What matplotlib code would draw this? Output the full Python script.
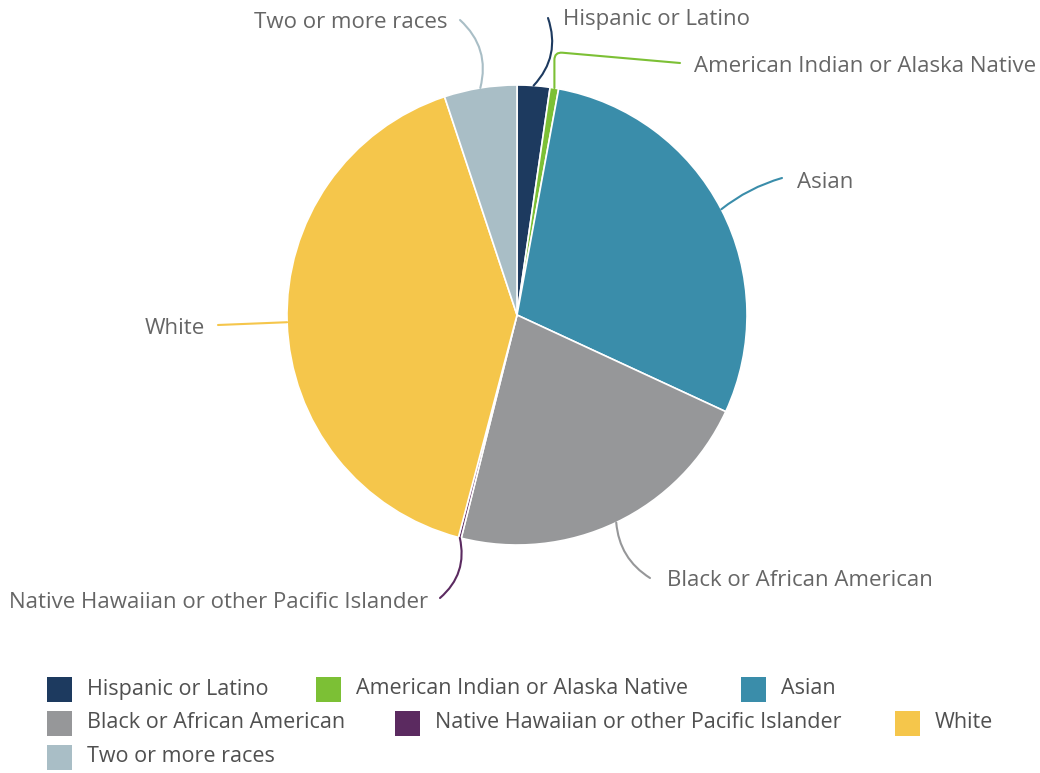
import matplotlib
matplotlib.use("Agg")
import numpy as np
from matplotlib import pyplot as plt
from matplotlib.patches import Rectangle

# data
categories = [
    "Hispanic or Latino",
    "American Indian or Alaska Native",
    "Asian",
    "Black or African American",
    "Native Hawaiian or other Pacific Islander",
    "White",
    "Two or more races",
]
shares = [2.3, 0.6, 29.0, 22.0, 0.2, 40.8, 5.1]
colors = ["#1d3a5f", "#7cc035", "#3a8daa", "#969799", "#5b2a60", "#f5c64b", "#a9bec6"]

W, H = 1040, 773
plt.rcParams["font.family"] = ["Open Sans", "DejaVu Sans"]

fig = plt.figure(figsize=(W / 100, H / 100), dpi=100)
ax = fig.add_axes([0, 0, 1, 1])

cx, cy, r = 517, H - 315, 230
wedges, _ = ax.pie(shares, colors=colors, startangle=90, counterclock=False,
                   center=(cx, cy), radius=r, frame=True,
                   wedgeprops=dict(edgecolor="white", linewidth=1.2))
ax.set_xlim(0, W)
ax.set_ylim(0, H)
ax.axis("off")

# label text position (image px), alignment, connector end, connection style
label_layout = [
    ((563, 19), "left", (548, 18), "arc3,rad=-0.3"),
    ((694, 67), "left", (680, 63), "angle,angleA=-5,angleB=90,rad=8"),
    ((797, 183), "left", (782, 178), "arc3,rad=0.1"),
    ((667, 580), "left", (650, 578), "arc3,rad=-0.25"),
    ((428, 603), "right", (440, 598), "arc3,rad=0.3"),
    ((205, 328), "right", (218, 325), "arc3,rad=0"),
    ((447, 22), "right", (460, 20), "arc3,rad=-0.3"),
]

for w, name, col, (tpos, ha, cend, cstyle) in zip(wedges, categories, colors, label_layout):
    mid = np.deg2rad((w.theta1 + w.theta2) / 2)
    anchor = (cx + r * np.cos(mid), cy + r * np.sin(mid))
    ax.annotate("", xy=anchor, xytext=(cend[0], H - cend[1]),
                arrowprops=dict(arrowstyle="-", color=col, lw=1.5,
                                connectionstyle=cstyle, shrinkA=0, shrinkB=0))
    ax.text(tpos[0], H - tpos[1], name, ha=ha, va="center",
            fontsize=16, color="#666666")

# legend, laid out like the original flowing legend
legend_pos = [(47, 689), (316, 689), (741, 689),
              (47, 723), (395, 723), (895, 723),
              (47, 757)]
sq = 25
for (lx, ly), name, col in zip(legend_pos, categories, colors):
    ax.add_patch(Rectangle((lx, H - ly - sq / 2), sq, sq, facecolor=col, edgecolor="none"))
    ax.text(lx + sq + 15, H - ly, name, ha="left", va="center",
            fontsize=15.5, color="#505050")

fig.savefig("out.png", dpi=100)
